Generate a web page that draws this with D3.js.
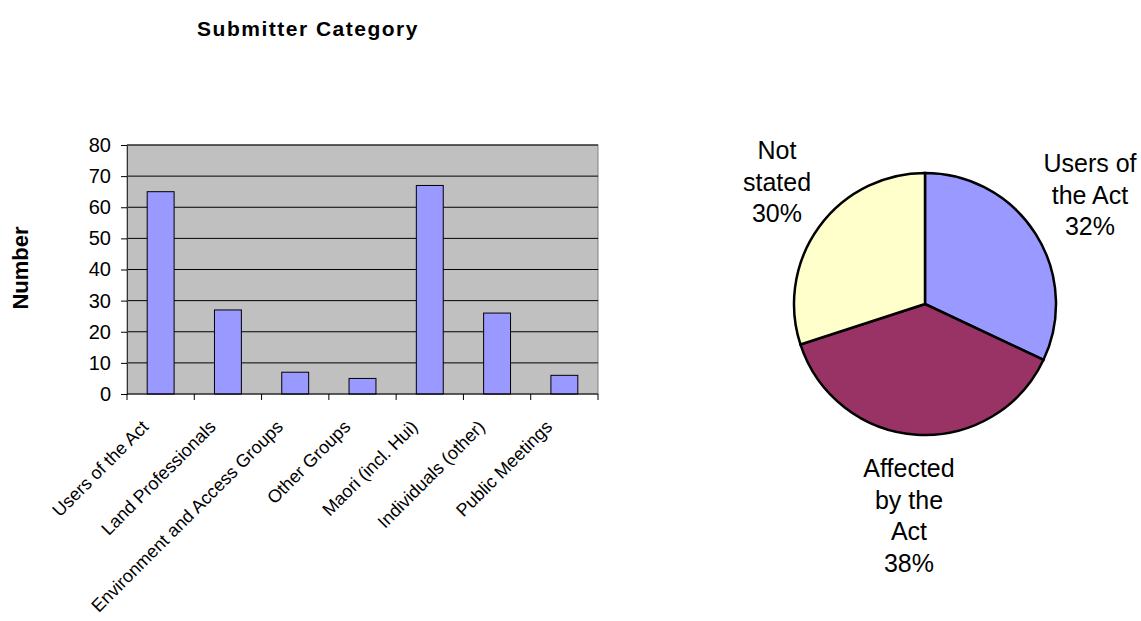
<!DOCTYPE html>
<html><head><meta charset="utf-8">
<script src="https://cdn.jsdelivr.net/npm/d3@7"></script>
<style>body{margin:0;background:#fff}svg{display:block;font-family:Arial,"Liberation Sans",sans-serif}</style>
</head><body><svg id="c" width="1141" height="621"></svg>
<script>
const categories = ["Users of the Act","Land Professionals","Environment and Access Groups","Other Groups","Maori (incl. Hui)","Individuals (other)","Public Meetings"];
const counts = [65, 27, 7, 5, 67, 26, 6];
const yTicks = [0,10,20,30,40,50,60,70,80];
const pieLabels = [["Users of","the Act","32%"],["Affected","by the","Act","38%"],["Not","stated","30%"]];
const pieValues = [32, 38, 30];
const pieColors = ["#9999FF","#993366","#FFFFCC"];

const svg = d3.select("#c");
const L=127, R=598, T=145, B=394;
const x = d3.scaleBand().domain(categories).range([L,R]).paddingInner(0.6).paddingOuter(0.3);
const xb = d3.scaleBand().domain(categories).range([L,R]);
const y = d3.scaleLinear().domain([0,80]).range([B,T]);

svg.append("text").attr("x",308).attr("y",36).attr("text-anchor","middle")
  .attr("font-weight","bold").attr("font-size",21).attr("letter-spacing",1.5).text("Submitter Category");
svg.append("text").attr("transform","translate(28,268) rotate(-90)").attr("text-anchor","middle")
  .attr("font-weight","bold").attr("font-size",22).text("Number");

svg.append("rect").attr("x",L).attr("y",T).attr("width",R-L).attr("height",B-T)
  .attr("fill","#C0C0C0").attr("stroke","#808080").attr("stroke-width",1);
svg.append("g").selectAll("line").data(yTicks.filter(d=>d>0)).join("line")
  .attr("x1",L).attr("x2",R).attr("y1",d=>y(d)).attr("y2",d=>y(d)).attr("stroke","#000").attr("stroke-width",1);

svg.append("g").selectAll("rect").data(counts).join("rect")
  .attr("x",(d,i)=>x(categories[i])).attr("width",x.bandwidth())
  .attr("y",d=>y(d)).attr("height",d=>B-y(d))
  .attr("fill","#9999FF").attr("stroke","#000").attr("stroke-width",1);

const ya = svg.append("g").attr("transform",`translate(${L},0)`)
  .call(d3.axisLeft(y).tickValues(yTicks).tickSize(6).tickPadding(10));
ya.select(".domain").attr("stroke","#333");
ya.selectAll("text").attr("font-size",20).attr("font-family","Arial, Liberation Sans, sans-serif").attr("fill","#000");

const xa = svg.append("g").attr("transform",`translate(0,${B})`);
xa.append("line").attr("x1",L).attr("x2",R).attr("y1",0).attr("y2",0).attr("stroke","#000");
xa.selectAll("line.t").data(categories.concat(["end"])).join("line").attr("class","t")
  .attr("x1",(d,i)=>L+i*xb.step()).attr("x2",(d,i)=>L+i*xb.step()).attr("y1",0).attr("y2",6).attr("stroke","#000");
xa.selectAll("text").data(categories).join("text")
  .attr("transform",d=>`translate(${xb(d)+xb.bandwidth()/2-11},${34}) rotate(-45)`)
  .attr("text-anchor","end").attr("font-size",18).text(d=>d);

// pie
const cx=925, cy=304, r=131;
const pie = d3.pie().sort(null)(pieValues);
const arc = d3.arc().innerRadius(0).outerRadius(r);
const pg = svg.append("g").attr("transform",`translate(${cx},${cy})`);
pg.selectAll("path").data(pie).join("path").attr("d",arc)
  .attr("fill",(d,i)=>pieColors[i]).attr("stroke","#000").attr("stroke-width",2.5);

const labelPos = [[1090,172],[909,477],[777,159]];
pieLabels.forEach((lines,i)=>{
  const t = svg.append("text").attr("text-anchor","middle").attr("font-size",25);
  lines.forEach((s,j)=>t.append("tspan").attr("x",labelPos[i][0]).attr("y",labelPos[i][1]+j*31.7).text(s));
});
</script></body></html>
